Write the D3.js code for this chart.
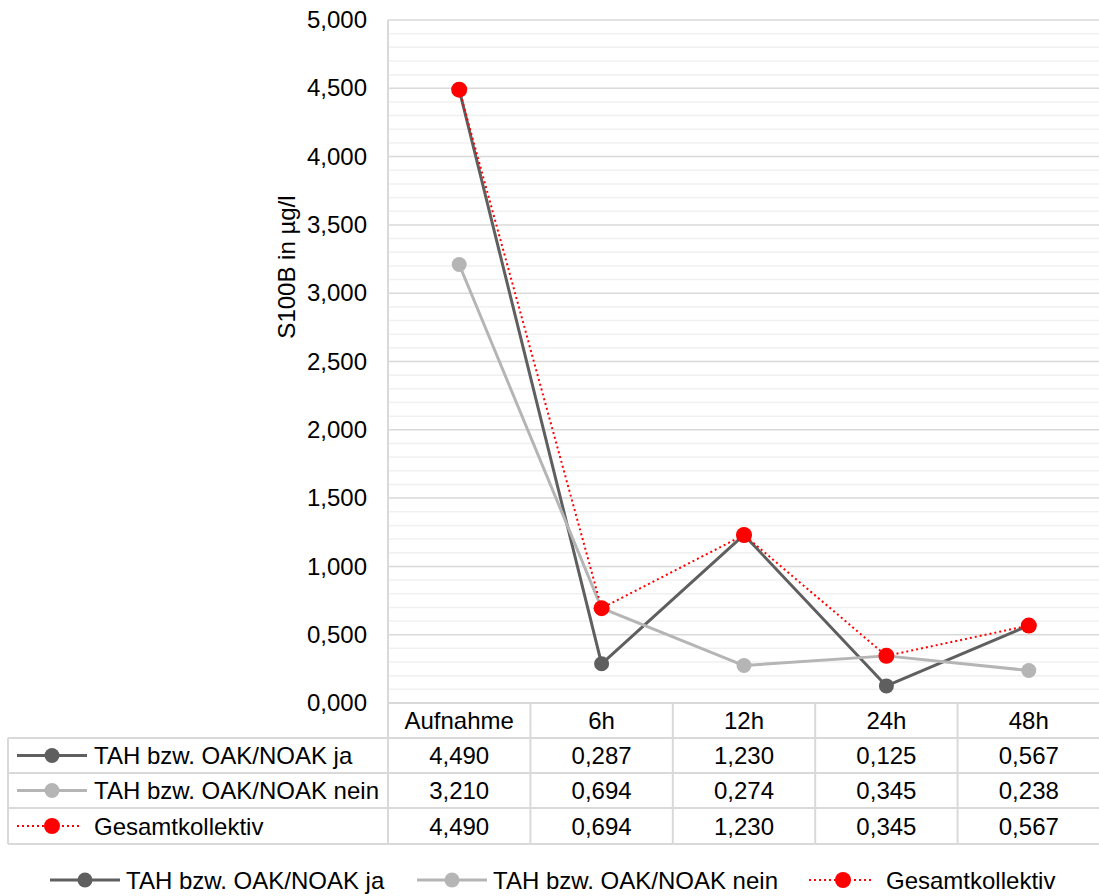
<!DOCTYPE html>
<html>
<head>
<meta charset="utf-8">
<script src="https://cdn.jsdelivr.net/npm/d3@7"></script>
<style>
  html, body { margin: 0; padding: 0; background: #fff; }
  svg { display: block; font-family: "Liberation Sans", Arial, sans-serif; }
</style>
</head>
<body>
<svg id="chart" width="1099" height="896"></svg>
<script>
// Time points of the S100B measurements
const categories = ["Aufnahme", "6h", "12h", "24h", "48h"];

// Series names
const seriesNames = ["TAH bzw. OAK/NOAK ja", "TAH bzw. OAK/NOAK nein", "Gesamtkollektiv"];

// S100B values in µg/l per series
const valuesJa = [4.490, 0.287, 1.230, 0.125, 0.567];
const valuesNein = [3.210, 0.694, 0.274, 0.345, 0.238];
const valuesGesamt = [4.490, 0.694, 1.230, 0.345, 0.567];

// Y axis ticks
const yTicks = [0, 0.5, 1, 1.5, 2, 2.5, 3, 3.5, 4, 4.5, 5];
const yMinorTicks = d3.range(0, 50).map(i => i / 10).filter(v => Math.round(v * 10) % 5 !== 0);

const yTitle = "S100B in µg/l";

const series = [
  { name: seriesNames[0], values: valuesJa, color: "#5f5f5f", width: 3, dash: null, r: 7.5 },
  { name: seriesNames[1], values: valuesNein, color: "#b5b5b5", width: 3, dash: null, r: 7.5 },
  { name: seriesNames[2], values: valuesGesamt, color: "#ff0000", width: 2, dash: "2,3", r: 8 }
];

const de = d3.formatLocale({ decimal: ",", thousands: ".", grouping: [3], currency: ["", " €"] });
const fmt = de.format(".3f");

const svg = d3.select("#chart");
const fontSize = 24;

const plot = { left: 388, right: 1100, top: 20, bottom: 703 };
const table = { left: 8, headerTop: 703, rowTops: [738, 773, 808], bottom: 844 };

const x = d3.scaleBand().domain(categories).range([plot.left, plot.right]).paddingInner(0).paddingOuter(0);
const xc = c => x(c) + x.bandwidth() / 2;
const y = d3.scaleLinear().domain([0, 5]).range([plot.bottom, plot.top]);

// Minor grid
svg.append("g").selectAll("line").data(yMinorTicks).join("line")
  .attr("x1", plot.left).attr("x2", plot.right)
  .attr("y1", d => y(d)).attr("y2", d => y(d))
  .attr("stroke", "#f0f0f0").attr("stroke-width", 1.5);

// Major grid
svg.append("g").selectAll("line").data(yTicks).join("line")
  .attr("x1", plot.left).attr("x2", plot.right)
  .attr("y1", d => y(d)).attr("y2", d => y(d))
  .attr("stroke", "#d9d9d9").attr("stroke-width", 1.5);

// Vertical axis line
svg.append("line")
  .attr("x1", plot.left).attr("x2", plot.left)
  .attr("y1", plot.top).attr("y2", plot.bottom)
  .attr("stroke", "#d9d9d9").attr("stroke-width", 2);

// Y axis labels
const yAxis = d3.axisLeft(y).tickValues(yTicks).tickFormat(fmt).tickSize(0).tickPadding(21);
const gy = svg.append("g").attr("transform", `translate(${plot.left},0)`).call(yAxis);
gy.select(".domain").remove();
gy.selectAll("text").attr("font-size", fontSize).attr("fill", "#000")
  .attr("font-family", "Liberation Sans, Arial, sans-serif");

// Y axis title
svg.append("text")
  .attr("transform", `translate(295,267) rotate(-90)`)
  .attr("text-anchor", "middle")
  .attr("font-size", fontSize).attr("fill", "#000")
  .text(yTitle);

// Data table grid
const tg = svg.append("g").attr("stroke", "#d9d9d9").attr("stroke-width", 2);
tg.append("line").attr("x1", plot.left).attr("x2", plot.right)
  .attr("y1", table.headerTop).attr("y2", table.headerTop);
[...table.rowTops, table.bottom].forEach(yy => {
  tg.append("line").attr("x1", table.left).attr("x2", plot.right).attr("y1", yy).attr("y2", yy);
});
tg.append("line").attr("x1", table.left).attr("x2", table.left)
  .attr("y1", table.rowTops[0]).attr("y2", table.bottom);
categories.forEach(c => {
  tg.append("line").attr("x1", x(c)).attr("x2", x(c))
    .attr("y1", table.headerTop).attr("y2", table.bottom);
});

// Header row
svg.append("g").selectAll("text").data(categories).join("text")
  .attr("x", d => xc(d)).attr("y", (table.headerTop + table.rowTops[0]) / 2)
  .attr("dy", "0.36em").attr("text-anchor", "middle")
  .attr("font-size", fontSize).attr("fill", "#000")
  .text(d => d);

// Legend key symbol
function drawKey(g, s, x0, x1, cx, cy) {
  g.append("line").attr("x1", x0).attr("x2", x1).attr("y1", cy).attr("y2", cy)
    .attr("stroke", s.color).attr("stroke-width", s.width)
    .attr("stroke-dasharray", s.dash);
  g.append("circle").attr("cx", cx).attr("cy", cy).attr("r", s.r).attr("fill", s.color);
}

// Table rows
series.forEach((s, i) => {
  const top = table.rowTops[i];
  const bottom = i < 2 ? table.rowTops[i + 1] : table.bottom;
  const cy = (top + bottom) / 2;
  const g = svg.append("g");
  drawKey(g, s, 17, i < 2 ? 87 : 82, 52, cy);
  g.append("text").attr("x", 94).attr("y", cy).attr("dy", "0.36em")
    .attr("font-size", fontSize).attr("fill", "#000").text(s.name);
  g.selectAll("text.v").data(s.values).join("text").attr("class", "v")
    .attr("x", (d, j) => xc(categories[j])).attr("y", cy).attr("dy", "0.36em")
    .attr("text-anchor", "middle").attr("font-size", fontSize).attr("fill", "#000")
    .text(d => fmt(d));
});

// Series lines and markers
const line = d3.line().x((d, j) => xc(categories[j])).y(d => y(d));
series.forEach(s => {
  const g = svg.append("g");
  g.append("path").datum(s.values).attr("d", line)
    .attr("fill", "none").attr("stroke", s.color).attr("stroke-width", s.width)
    .attr("stroke-dasharray", s.dash).attr("stroke-linejoin", "round");
  g.selectAll("circle").data(s.values).join("circle")
    .attr("cx", (d, j) => xc(categories[j])).attr("cy", d => y(d))
    .attr("r", s.r).attr("fill", s.color);
});

// Bottom legend
const legendY = 880;
const legendItems = [
  { x0: 50, x1: 120, cx: 85, tx: 126 },
  { x0: 417, x1: 487, cx: 452, tx: 493 },
  { x0: 809, x1: 873, cx: 843, tx: 886 }
];
series.forEach((s, i) => {
  const it = legendItems[i];
  const g = svg.append("g");
  drawKey(g, s, it.x0, it.x1, it.cx, legendY);
  g.append("text").attr("x", it.tx).attr("y", legendY).attr("dy", "0.36em")
    .attr("font-size", fontSize).attr("fill", "#000").text(s.name);
});
</script>
</body>
</html>
